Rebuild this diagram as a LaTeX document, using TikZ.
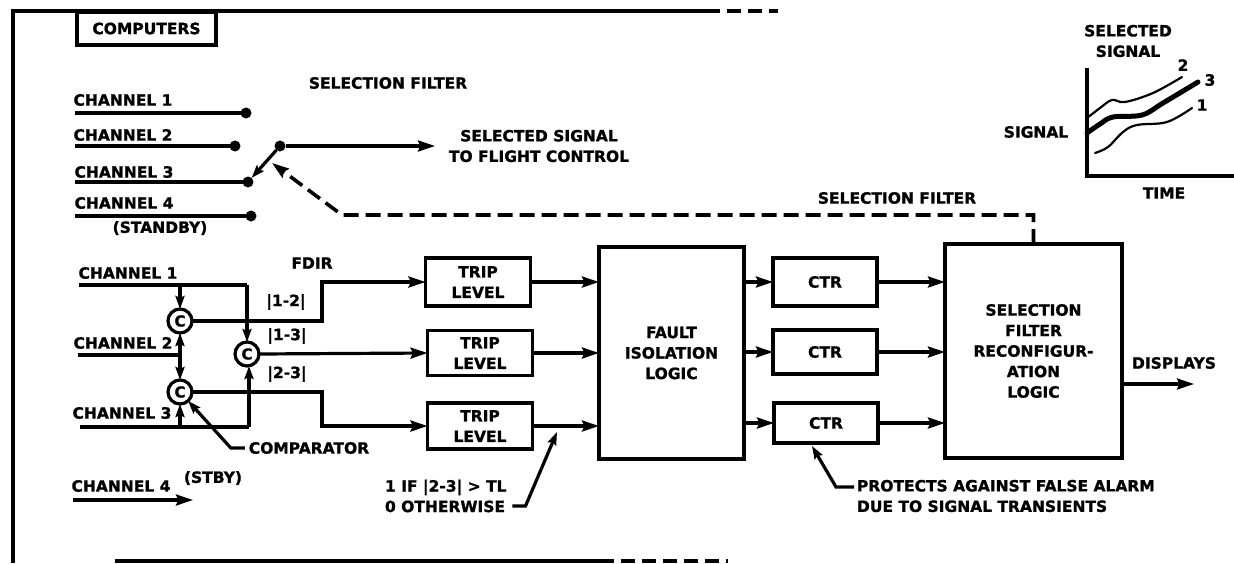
\documentclass[tikz,border=0pt]{standalone}
\usepackage{fontspec}
\setmainfont{DejaVu Sans}[BoldFeatures={FakeBold=1.2}]
\usetikzlibrary{arrows.meta}
\begin{document}
\begin{tikzpicture}[x=1pt,y=-1pt,
  every node/.style={font=\bfseries\fontsize{15.5}{20.5}\selectfont, inner sep=0pt, outer sep=0pt},
  ln/.style={line width=3.2pt},
  arr/.style={ln, -{Stealth[length=17pt,width=11pt,inset=2.5pt]}},
  sarr/.style={ln, -{Stealth[length=13pt,width=9pt,inset=2pt]}},
  blk/.style={draw, line width=3.3pt, align=center},
  dot/.style={circle, fill, minimum size=11pt},
  cmp/.style={circle, draw, line width=3.2pt, minimum size=24pt, font=\bfseries\fontsize{15}{15}\selectfont},
  dsh/.style={line width=3.6pt, dash pattern=on 15pt off 7pt},
  crv/.style={line width=2.2pt, line cap=round}
]
\useasboundingbox (0,0) rectangle (1234,563);

% frame
\coordinate (ftl) at (13,11);
\coordinate (fbl) at (13,563);
\coordinate (ftr) at (706,11);
\coordinate (ftd) at (778,11);
\coordinate (fb1) at (115,561);
\coordinate (fb2) at (600,561);
\coordinate (fb3) at (728,561);
\draw[ln] (fbl) -- (ftl) -- (ftr);
\draw[ln, dash pattern=on 14pt off 7pt] (ftr) -- (ftd);
\draw[ln] (fb1) -- (fb2);
\draw[ln, dash pattern=on 14pt off 7pt] (fb2) -- (fb3);

\node[blk, minimum width=139pt, minimum height=33pt] (comp) at (146.5,28.5) {COMPUTERS};

% selection filter switch
\node (sf1) at (388,83) {SELECTION FILTER};
\node (sc1) at (123,100) {CHANNEL 1};
\node (sc2) at (123,135) {CHANNEL 2};
\node (sc3) at (124,172) {CHANNEL 3};
\node (sc4) at (124,203) {CHANNEL 4};
\node (stb) at (160,228) {(STANDBY)};
\node[dot] (d1) at (246,113) {};
\node[dot] (d2) at (235,146) {};
\node[dot] (d3) at (248,182) {};
\node[dot] (d4) at (251,216) {};
\node[dot] (pv) at (280,146) {};
\coordinate (a1) at (75,113);
\coordinate (a2) at (75,146);
\coordinate (a3) at (75,182);
\coordinate (a4) at (75,216);
\draw[ln] (a1) -- (d1);
\draw[ln] (a2) -- (d2);
\draw[ln] (a3) -- (d3);
\draw[ln] (a4) -- (d4);
\draw[sarr] (pv) -- (d3);
\coordinate (so) at (435,146);
\draw[arr] (pv) -- (so);
\node[align=center] (sst) at (539,146) {SELECTED SIGNAL\\TO FLIGHT CONTROL};

% graph inset
\node[align=center] (gsel) at (1128,41) {SELECTED\\SIGNAL};
\node (gsig) at (1036,132) {SIGNAL};
\node (gtime) at (1164,193) {TIME};
\node (g2) at (1183,65) {2};
\node (g3) at (1210,80) {3};
\node (g1) at (1202,105) {1};
\draw[ln] (1087,68) -- (1087,176) -- (1234,176);
\draw[crv] plot[smooth, tension=0.6] coordinates {(1087,118) (1100,108) (1112,100) (1125,102) (1153,93) (1182,77)};
\draw[crv, line width=5pt] plot[smooth, tension=0.6] coordinates {(1087,133) (1100,124) (1113,117) (1142,115) (1163,103) (1198,82)};
\draw[crv] plot[smooth, tension=0.6] coordinates {(1095,153) (1108,147) (1123,132) (1137,125) (1167,122) (1192,108)};

% FDIR
\node (fdir) at (312,263) {FDIR};
\node (fc1) at (128,273) {CHANNEL 1};
\node (fc2) at (123,343) {CHANNEL 2};
\node (fc3) at (122,413) {CHANNEL 3};
\node[cmp] (ca) at (180,321) {C};
\node[cmp] (cb) at (247,354) {C};
\node[cmp] (cc) at (180,392) {C};
\coordinate (b1) at (79,285);
\coordinate (b1e) at (247,285);
\coordinate (b2) at (78,355);
\coordinate (b3) at (80,427);
\coordinate (b3e) at (249,427);
\draw[ln] (b1) -- (b1e);
\draw[sarr] (b1e) -- (cb.north);
\draw[sarr] (ca.north |- b1) -- (ca.north);
\draw[ln] (b2) -- (ca.south |- b2);
\draw[sarr] (ca.south |- b2) -- (ca.south);
\draw[sarr] (cc.north |- b2) -- (cc.north);
\draw[ln] (b3) -- (b3e);
\draw[sarr] (b3e) -- (b3e |- cb.south);
\draw[sarr] (cc.south |- b3) -- (cc.south);
\node (l12) at (286,302) {|1-2|};
\node (l13) at (287,336) {|1-3|};
\node (l23) at (287,374) {|2-3|};
\node (cmpt) at (309,448) {COMPARATOR};
\draw[sarr] (cmpt.west) ++(-4,0) -- ++(-14,0) -- (cc);
\node (fc4) at (121,486) {CHANNEL 4};
\node (stby) at (213,478) {(STBY)};
\coordinate (c4s) at (73,500);
\coordinate (c4e) at (193,500);
\draw[arr] (c4s) -- (c4e);

% trip levels
\node[blk, minimum width=105pt, minimum height=48pt] (tl1) at (478,282) {TRIP\\LEVEL};
\node[blk, minimum width=105pt, minimum height=45pt] (tl2) at (480,353) {TRIP\\LEVEL};
\node[blk, minimum width=105pt, minimum height=46pt] (tl3) at (480,426) {TRIP\\LEVEL};
\coordinate (k12) at (322,321);
\coordinate (k23) at (322,392);
\draw[arr] (ca.east) -- (k12) |- (tl1.west);
\draw[arr] (cb.east) -- (tl2.west);
\draw[arr] (cc.east) -- (k23) |- (tl3.west);

% fault isolation logic
\node[blk, minimum width=145pt, minimum height=212pt] (fil) at (671.5,353) {FAULT\\ISOLATION\\LOGIC};
\draw[arr] (tl1.east) -- (tl1.east -| fil.west);
\draw[arr] (tl2.east) -- (tl2.east -| fil.west);
\draw[arr] (tl3.east) -- (tl3.east -| fil.west);
\node[align=left, anchor=west] (iftxt) at (385,496) {1 IF |2-3| > TL\\0 OTHERWISE};
\coordinate (iftip) at (557,432);
\draw[sarr] (iftxt.east |- 0,506) ++(6,0) -- ++(13,0) -- (iftip);

% counters
\node[blk, minimum width=104pt, minimum height=48pt] (ct1) at (825,282) {CTR};
\node[blk, minimum width=104pt, minimum height=44pt] (ct2) at (825,352) {CTR};
\node[blk, minimum width=104pt, minimum height=40pt] (ct3) at (826,423) {CTR};
\draw[arr] (fil.east |- ct1) -- (ct1.west);
\draw[arr] (fil.east |- ct2) -- (ct2.west);
\draw[arr] (fil.east |- ct3) -- (ct3.west);

% selection filter reconfiguration logic
\node[blk, minimum width=177pt, minimum height=214pt] (sfr) at (1033.5,351) {SELECTION\\FILTER\\RECONFIGUR-\\ATION\\LOGIC};
\draw[arr] (ct1.east) -- (ct1.east -| sfr.west);
\draw[arr] (ct2.east) -- (ct2.east -| sfr.west);
\draw[arr] (ct3.east) -- (ct3.east -| sfr.west);
\node (disp) at (1174,363) {DISPLAYS};
\coordinate (dend) at (1194,384);
\draw[arr] (sfr.east |- dend) -- (dend);
\node[align=left, anchor=west] (prot) at (857,496) {PROTECTS AGAINST FALSE ALARM\\DUE TO SIGNAL TRANSIENTS};
\coordinate (ptip) at (812,446);
\draw[sarr] (prot.west |- 0,487) ++(-3,0) -- ++(-18,0) -- (ptip);

% dashed selection filter feedback
\node (sf2) at (897,198) {SELECTION FILTER};
\coordinate (k1) at (1033.5,215);
\coordinate (k2) at (342,215);
\coordinate (k3) at (272,163);
\draw[dsh, -{Stealth[length=17pt,width=11pt,inset=2.5pt]}] (sfr.north) -- (k1) -- (k2) -- (k3);
\end{tikzpicture}
\end{document}
